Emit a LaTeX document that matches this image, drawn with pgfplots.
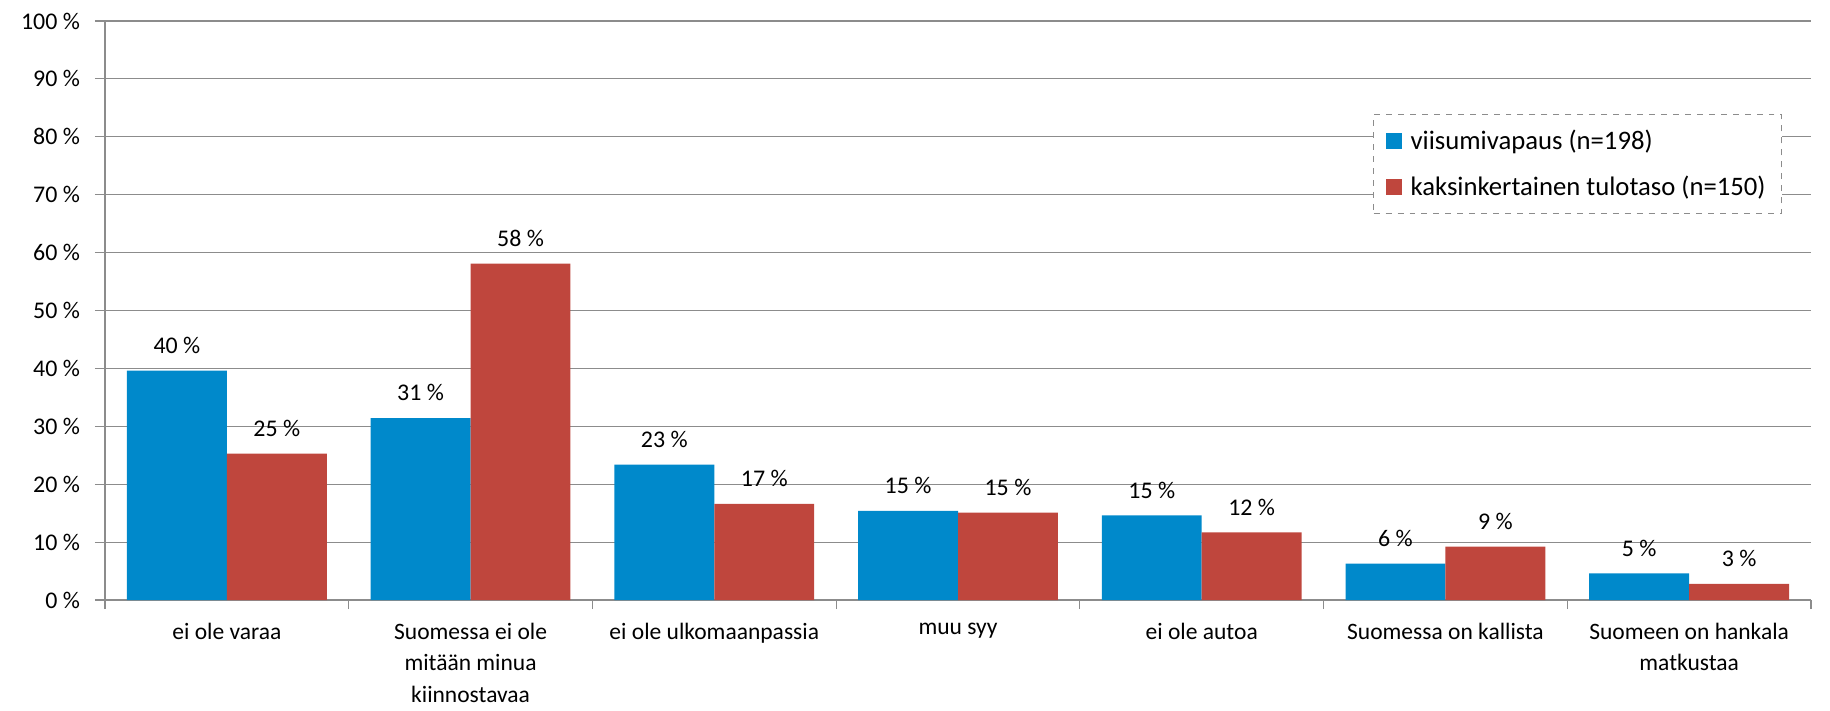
\documentclass[border=0pt]{standalone}
\usepackage{pgfplots}
\pgfplotsset{compat=1.18}
\usepackage{fontspec}
\setmainfont{Carlito}
\definecolor{cblue}{RGB}{0,137,203}
\definecolor{cred}{RGB}{191,70,61}
\definecolor{cgrid}{RGB}{140,140,140}
\begin{document}
\begin{tikzpicture}
\begin{axis}[
  name=ax,
  scale only axis,
  width=853bp, height=289.5bp,
  ybar=0pt, bar width=0.41,
  xmin=-0.5, xmax=6.5, ymin=0, ymax=100,
  xtick={0,...,6},
  xticklabels={{ei ole varaa},{Suomessa ei ole\\mitään minua\\kiinnostavaa},{ei ole ulkomaanpassia},{muu syy},{ei ole autoa},{Suomessa on kallista},{Suomeen on hankala\\matkustaa}},
  xticklabel style={align=center, font=\fontsize{11.8}{15.75}\selectfont, anchor=north, yshift=-8bp},
  minor xtick={-0.5,0.5,...,6.5},
  major tick length=0pt,
  minor tick length=4.5bp,
  ytick={0,10,...,100},
  yticklabel={\pgfmathprintnumber{\tick}~\%},
  /pgf/number format/assume math mode=true,
  yticklabel style={font=\fontsize{12}{14}\selectfont, xshift=-9bp},
  extra y ticks={0,10,...,100}, extra y tick labels={},
  extra y tick style={grid=none, major tick length=5bp, tick align=outside},
  tick align=outside,
  ymajorgrids, grid style={cgrid, line width=0.6bp},
  axis x line*=bottom, axis y line*=left,
  axis line style={cgrid, line width=0.6bp},
  tick style={cgrid, line width=0.6bp},
  nodes near coords={\pgfmathprintnumber[fixed,precision=0]{\pgfplotspointmeta}~\%},
  nodes near coords style={font=\fontsize{12}{14}\selectfont, black, yshift=5bp},
  legend style={at={(0.983,0.839)}, anchor=north east, draw=cgrid, dashed, fill=white,
    font=\fontsize{13.4}{16}\selectfont, row sep=8bp, inner xsep=6bp, inner ysep=5.5bp,
    legend cell align=left},
  legend image code/.code={\fill[#1, solid] (0bp,-4bp) rectangle (8bp,4bp); \path (10.5bp,0bp);},
]
\addplot[fill=cblue, draw=none] coordinates {(0,39.6) (1,31.4) (2,23.4) (3,15.4) (4,14.6) (5,6.3) (6,4.6)};
\addplot[fill=cred, draw=none] coordinates {(0,25.3) (1,58.1) (2,16.6) (3,15.1) (4,11.7) (5,9.2) (6,2.8)};
\legend{viisumivapaus (n=198), kaksinkertainen tulotaso (n=150)}
\end{axis}
\path (ax.south west) ++(-52.5bp,-55bp);
\path (ax.north east) ++(9.5bp,10.5bp);
\end{tikzpicture}
\end{document}
